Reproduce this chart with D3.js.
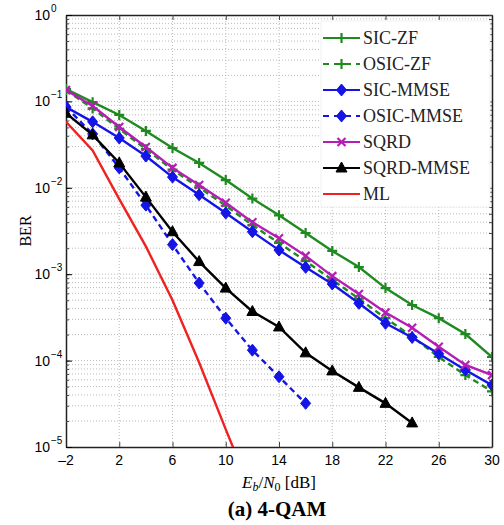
<!DOCTYPE html>
<html>
<head>
<meta charset="utf-8">
<script src="https://cdn.jsdelivr.net/npm/d3@7"></script>
<style>
  body { margin: 0; background: #fff; }
  svg { display: block; }
</style>
</head>
<body>
<svg id="chart" width="504" height="525"></svg>
<script>
// Eb/N0 points (dB)
var snr = [-2, 0, 2, 4, 6, 8, 10, 12, 14, 16, 18, 20, 22, 24, 26, 28, 30];

// BER values
var sicZf    = [0.139, 0.098, 0.0697, 0.0455, 0.0289, 0.0194, 0.0123, 0.0075, 0.0048, 0.0030, 0.00186, 0.00121, 0.00069, 0.00044, 0.00031, 0.000203, 0.000110];
var osicZf   = [0.135, 0.083, 0.048, 0.028, 0.0162, 0.0101, 0.0062, 0.0037, 0.0023, 0.00142, 0.00086, 0.00052, 0.00031, 0.00019, 0.00011, 0.000068, 0.000044];
var sicMmse  = [0.086, 0.058, 0.0377, 0.0233, 0.0133, 0.0083, 0.0051, 0.0031, 0.0019, 0.0012, 0.00077, 0.00046, 0.00027, 0.000185, 0.00012, 0.000078, 0.000052];
var osicMmse = [0.086, 0.042, 0.017, 0.0063, 0.0022, 0.00079, 0.00031, 0.000132, 0.000065, 0.000032];
var sqrd     = [0.135, 0.0885, 0.0506, 0.0297, 0.017, 0.0108, 0.0067, 0.0040, 0.0026, 0.00163, 0.00095, 0.00059, 0.00036, 0.00024, 0.000145, 0.000089, 0.000068];
var sqrdMmse = [0.073, 0.041, 0.0194, 0.0078, 0.0031, 0.0014, 0.00069, 0.00037, 0.000245, 0.000123, 0.000076, 0.000049, 0.000032, 0.000019];
var ml       = [0.058, 0.027, 0.0074, 0.0021, 0.0005, 0.000095, 0.000016, 0.0000028];

var xTicks = [-2, 2, 6, 10, 14, 18, 22, 26, 30];
var yTicks = [1, 1e-1, 1e-2, 1e-3, 1e-4, 1e-5];
var yTickExp = ['0', '\u22121', '\u22122', '\u22123', '\u22124', '\u22125'];

var series = [
  {name: 'SIC-ZF',    y: sicZf,    color: '#1f8a1f', dash: null,  marker: 'plus'},
  {name: 'OSIC-ZF',   y: osicZf,   color: '#1f8a1f', dash: '6,4', marker: 'plus'},
  {name: 'SIC-MMSE',  y: sicMmse,  color: '#1414e6', dash: null,  marker: 'diamond'},
  {name: 'OSIC-MMSE', y: osicMmse, color: '#1414e6', dash: '6,4', marker: 'diamond'},
  {name: 'SQRD',      y: sqrd,     color: '#b41eb4', dash: null,  marker: 'cross'},
  {name: 'SQRD-MMSE', y: sqrdMmse, color: '#000000', dash: null,  marker: 'triangle'},
  {name: 'ML',        y: ml,       color: '#ee2222', dash: null,  marker: null}
];

var svg = d3.select('#chart');
var pL = 66, pR = 492, pT = 15, pB = 447;

var x = d3.scaleLinear().domain([-2, 30]).range([pL, pR]);
var y = d3.scaleLog().domain([1e-5, 1]).range([pB, pT]);

svg.append('defs').append('clipPath').attr('id', 'clip')
  .append('rect').attr('x', pL).attr('y', pT)
  .attr('width', pR - pL).attr('height', pB - pT);

// grid
var grid = svg.append('g').attr('stroke', '#aaa').attr('stroke-width', 0.8)
  .attr('stroke-dasharray', '1,2');
var minor = [];
for (var e = -5; e < 0; e++) {
  for (var m = 1; m < 10; m++) minor.push(m * Math.pow(10, e));
}
grid.selectAll('line.h').data(minor.slice(1)).enter().append('line')
  .attr('x1', pL).attr('x2', pR)
  .attr('y1', function(d) { return y(d); }).attr('y2', function(d) { return y(d); });
grid.selectAll('line.v').data(xTicks.slice(1, -1)).enter().append('line')
  .attr('y1', pT).attr('y2', pB)
  .attr('x1', function(d) { return x(d); }).attr('x2', function(d) { return x(d); });

// axes box with inward ticks (matlab style)
var axisG = svg.append('g');
axisG.append('g').attr('transform', 'translate(0,' + pB + ')')
  .call(d3.axisBottom(x).tickValues(xTicks).tickSizeInner(-5).tickSizeOuter(0).tickFormat(''));
axisG.append('g').attr('transform', 'translate(0,' + pT + ')')
  .call(d3.axisTop(x).tickValues(xTicks).tickSizeInner(-5).tickSizeOuter(0).tickFormat(''));
axisG.append('g').attr('transform', 'translate(' + pL + ',0)')
  .call(d3.axisLeft(y).tickValues(minor.concat([1])).tickSizeInner(-3).tickSizeOuter(0).tickFormat(''));
axisG.append('g').attr('transform', 'translate(' + pR + ',0)')
  .call(d3.axisRight(y).tickValues(minor.concat([1])).tickSizeInner(-3).tickSizeOuter(0).tickFormat(''));
axisG.selectAll('.domain').attr('stroke', '#222').attr('stroke-width', 1.5);
axisG.selectAll('.tick line').attr('stroke', '#444');

// major y ticks a little longer
axisG.append('g').attr('transform', 'translate(' + pL + ',0)')
  .call(d3.axisLeft(y).tickValues(yTicks).tickSizeInner(-6).tickSizeOuter(0).tickFormat(''))
  .select('.domain').remove();

// tick labels
svg.selectAll('text.xt').data(xTicks).enter().append('text')
  .attr('x', function(d) { return x(d); }).attr('y', pB + 18)
  .attr('text-anchor', 'middle')
  .style('font-family', 'Liberation Sans, Arial, sans-serif').style('font-size', '14px')
  .text(function(d) { return d < 0 ? '\u2013' + Math.abs(d) : d; });

svg.selectAll('text.yt').data(yTicks).enter().append('text')
  .attr('x', 50).attr('y', function(d) { return y(d) + 5; })
  .attr('text-anchor', 'end')
  .style('font-family', 'Liberation Sans, Arial, sans-serif').style('font-size', '14px')
  .text('10');
svg.selectAll('text.ye').data(yTicks).enter().append('text')
  .attr('x', 51).attr('y', function(d) { return y(d) - 3; })
  .style('font-family', 'Liberation Sans, Arial, sans-serif').style('font-size', '10px')
  .text(function(d, i) { return yTickExp[i]; });

// lines
var plot = svg.append('g').attr('clip-path', 'url(#clip)');
var line = d3.line()
  .x(function(d) { return x(d[0]); })
  .y(function(d) { return y(d[1]); });

function pts(s) {
  return s.y.map(function(v, i) { return [snr[i], v]; });
}

function drawMarker(g, type, color, cx, cy) {
  if (type === 'plus') {
    g.append('path').attr('d', 'M' + (cx - 5) + ',' + cy + 'H' + (cx + 5) + 'M' + cx + ',' + (cy - 5) + 'V' + (cy + 5))
      .attr('stroke', color).attr('stroke-width', 2.2);
  } else if (type === 'cross') {
    g.append('path').attr('d', 'M' + (cx - 4) + ',' + (cy - 4) + 'L' + (cx + 4) + ',' + (cy + 4) + 'M' + (cx - 4) + ',' + (cy + 4) + 'L' + (cx + 4) + ',' + (cy - 4))
      .attr('stroke', color).attr('stroke-width', 2.2);
  } else if (type === 'diamond') {
    g.append('path').attr('d', 'M' + cx + ',' + (cy - 6) + 'L' + (cx + 5) + ',' + cy + 'L' + cx + ',' + (cy + 6) + 'L' + (cx - 5) + ',' + cy + 'Z')
      .attr('fill', color).attr('stroke', color).attr('stroke-width', 1);
  } else if (type === 'triangle') {
    g.append('path').attr('d', 'M' + cx + ',' + (cy - 6) + 'L' + (cx + 5.5) + ',' + (cy + 4) + 'L' + (cx - 5.5) + ',' + (cy + 4) + 'Z')
      .attr('fill', color).attr('stroke', color).attr('stroke-width', 1);
  }
}

series.forEach(function(s) {
  var d = pts(s);
  plot.append('path').datum(d)
    .attr('d', line)
    .attr('fill', 'none')
    .attr('stroke', s.color)
    .attr('stroke-width', 2.4)
    .attr('stroke-dasharray', s.dash);
  if (s.marker) {
    var mg = plot.append('g');
    d.forEach(function(p) { drawMarker(mg, s.marker, s.color, x(p[0]), y(p[1])); });
  }
});

// legend
var lg = svg.append('g');
lg.append('rect').attr('x', 321).attr('y', 21).attr('width', 169).attr('height', 186)
  .attr('fill', '#fff').attr('stroke', '#eee').attr('stroke-width', 0.8);
series.forEach(function(s, i) {
  var ly = 38 + i * 26;
  lg.append('line').attr('x1', 323).attr('x2', 360).attr('y1', ly).attr('y2', ly)
    .attr('stroke', s.color).attr('stroke-width', 2.2).attr('stroke-dasharray', s.dash ? '6,5' : null);
  if (s.marker) drawMarker(lg, s.marker, s.color, 341.5, ly);
  lg.append('text').attr('x', 363).attr('y', ly + 6)
    .style('font-family', 'Liberation Serif, Times New Roman, serif').style('font-size', '18px')
    .attr('fill', '#222')
    .text(s.name);
});

// axis titles
svg.append('text').attr('transform', 'translate(31,' + ((pT + pB) / 2) + ') rotate(-90)')
  .attr('text-anchor', 'middle')
  .style('font-family', 'Liberation Serif, Times New Roman, serif').style('font-size', '16px')
  .text('BER');

var xl = svg.append('text').attr('x', (pL + pR) / 2).attr('y', 488)
  .attr('text-anchor', 'middle')
  .style('font-family', 'Liberation Serif, Times New Roman, serif').style('font-size', '17px');
xl.append('tspan').style('font-style', 'italic').text('E');
xl.append('tspan').style('font-style', 'italic').style('font-size', '12px').attr('dy', 3).text('b');
xl.append('tspan').attr('dy', -3).text('/');
xl.append('tspan').style('font-style', 'italic').text('N');
xl.append('tspan').style('font-size', '12px').attr('dy', 3).text('0');
xl.append('tspan').attr('dy', -3).text(' [dB]');

svg.append('text').attr('x', 277).attr('y', 516)
  .attr('text-anchor', 'middle')
  .style('font-family', 'Liberation Serif, Times New Roman, serif').style('font-size', '21px')
  .style('font-weight', 'bold')
  .text('(a) 4-QAM');
</script>
</body>
</html>
